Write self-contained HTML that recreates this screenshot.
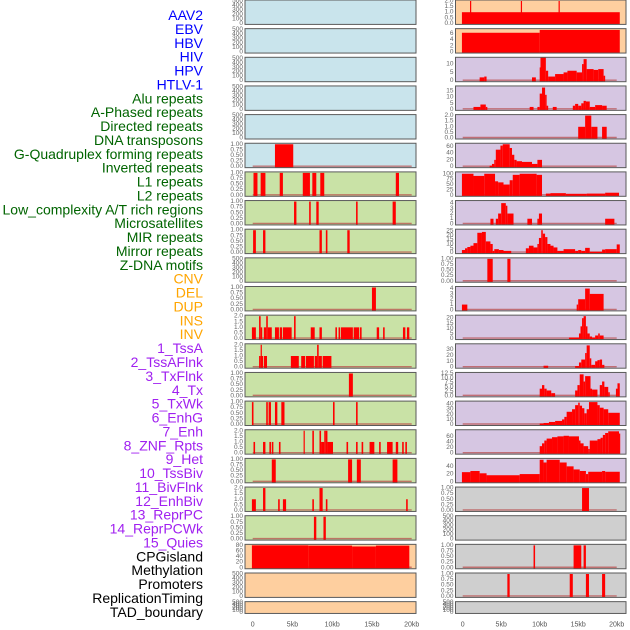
<!DOCTYPE html>
<html><head><meta charset="utf-8">
<style>
html,body{margin:0;padding:0;background:#fff;}
svg{display:block;font-family:"Liberation Sans",sans-serif;}
</style></head>
<body>
<svg id="chart" width="630" height="630" viewBox="0 0 630 630" xmlns="http://www.w3.org/2000/svg">
<g id="labels"></g>
<g id="panels"></g>
<g id="xaxes"></g>
</svg>
<script>
// ---------- DATA ----------
const categories = ["AAV2","EBV","HBV","HIV","HPV","HTLV-1","Alu repeats","A-Phased repeats","Directed repeats","DNA transposons","G-Quadruplex forming repeats","Inverted repeats","L1 repeats","L2 repeats","Low_complexity A/T rich regions","Microsatellites","MIR repeats","Mirror repeats","Z-DNA motifs","CNV","DEL","DUP","INS","INV","1_TssA","2_TssAFlnk","3_TxFlnk","4_Tx","5_TxWk","6_EnhG","7_Enh","8_ZNF_Rpts","9_Het","10_TssBiv","11_BivFlnk","12_EnhBiv","13_ReprPC","14_ReprPCWk","15_Quies","CPGisland","Methylation","Promoters","ReplicationTiming","TAD_boundary"];
const categoryColors = ["#0000ff","#0000ff","#0000ff","#0000ff","#0000ff","#0000ff","#006400","#006400","#006400","#006400","#006400","#006400","#006400","#006400","#006400","#006400","#006400","#006400","#006400","#ffa500","#ffa500","#ffa500","#ffa500","#ffa500","#a020f0","#a020f0","#a020f0","#a020f0","#a020f0","#a020f0","#a020f0","#a020f0","#a020f0","#a020f0","#a020f0","#a020f0","#a020f0","#a020f0","#a020f0","#000000","#000000","#000000","#000000","#000000"];
const xTickValues = [0,5,10,15,20];
const xTickLabels = ["0","5kb","10kb","15kb","20kb"];

const T_EMPTY = ["0","100","200","300","400","500"];
const T_BIN = ["0.00","0.25","0.50","0.75","1.00"];
const T_TWO = ["0.0","0.5","1.0","1.5","2.0"];

// middle column panels: segments [startKb, endKb, value]
const midTicks = [T_EMPTY,T_EMPTY,T_EMPTY,T_EMPTY,T_EMPTY,T_BIN,T_BIN,T_BIN,T_BIN,T_EMPTY,T_BIN,T_TWO,T_TWO,T_BIN,T_BIN,T_TWO,T_BIN,T_TWO,T_BIN,["0","20","40","60","80"],T_EMPTY,T_EMPTY];
const midMax = [500,500,500,500,500,1,1,1,1,500,1,2,2,1,1,2,1,2,1,80,500,500];
const midSegs = [
 [],[],[],[],[],
 [[2.8,5.1,1]],
 [[0.1,0.6,1],[1.0,1.6,1],[3.4,3.8,1],[6.3,7.2,1],[7.5,8.0,1],[8.5,9.0,1],[18.0,18.4,1]],
 [[5.2,5.5,1],[7.1,7.3,1],[8.0,8.3,1],[13.0,13.2,1],[17.6,18.0,1]],
 [[0.05,0.4,1],[1.3,1.6,1],[8.4,8.7,1],[9.2,9.4,1],[11.9,12.2,1]],
 [],
 [[15.0,15.5,1]],
 [[-0.1,0.4,1],[0.8,1.0,2],[1.0,1.2,1],[1.4,1.7,1],[1.7,1.9,2],[1.9,2.4,1],[2.8,3.3,1],[3.4,3.7,1],[3.8,4.9,1],[5.2,5.4,2],[7.3,7.8,1],[8.4,8.7,1],[10.4,10.6,1],[10.8,11.0,1],[11.1,12.6,1],[12.7,13.4,1],[13.5,13.7,1],[15.6,15.9,1],[16.4,16.6,1],[18.9,19.2,1],[19.4,19.7,1]],
 [[0.8,1.0,1],[1.0,1.1,2],[1.1,1.3,1],[1.4,1.8,1],[4.8,5.8,1],[6.1,6.6,1],[6.7,7.7,1],[7.8,8.1,1],[8.1,8.3,2],[8.3,8.7,1],[8.8,9.9,1]],
 [[12.1,12.6,1]],
 [[-0.1,0.1,1],[1.7,1.9,1],[2.0,2.3,1],[2.8,3.1,1],[3.6,4.0,1],[10.1,10.3,1],[13.0,13.2,1]],
 [[0.1,0.3,1],[1.3,1.6,1],[2.1,2.3,1],[2.4,2.6,1],[3.3,3.5,1],[6.4,6.5,2],[7.5,7.7,2],[8.4,8.6,2],[8.6,9.0,1],[9.0,9.2,2],[9.2,9.4,2],[9.4,10.1,1],[11.8,12.0,1],[13.0,13.2,1],[13.7,13.9,1],[14.7,15.3,1],[15.9,16.1,1],[16.9,17.6,1],[18.0,18.3,1],[18.8,19.0,1],[19.2,19.4,1]],
 [[2.4,2.9,1],[12.0,12.5,1],[13.1,13.6,1],[17.6,18.2,1]],
 [[-0.1,0.4,1],[1.3,1.6,2],[3.2,3.4,1],[3.8,4.2,1],[7.5,7.7,1],[8.4,8.8,2],[9.2,9.4,1],[19.3,19.5,1]],
 [[7.7,8.0,1],[8.9,9.2,1]],
 [[-0.1,7.0,80],[7.0,12.5,79],[12.5,15.5,76],[15.5,19.7,79]],
 [],[]
];

// right column panels
const rightTicks = [T_TWO,["0","2","4","6"],["0","5","10"],["0","5","10","15"],T_TWO,["0","20","40","60"],["0","25","50","75","100"],["0","1","2","3","4"],["0","5","10","15","20","25"],T_BIN,["0","1","2","3","4"],["0","5","10","15","20"],["0","10","20","30"],["0.0","2.5","5.0","7.5","10.0","12.5"],["0","10","20","30","40"],["0","20","40","60"],["0","20","40"],T_BIN,T_EMPTY,T_BIN,T_BIN,T_EMPTY];
const rightMax = [2,7.2,13.5,18.5,2,66,104,4.3,26,1,4.2,22,38,12.5,44,80,58,1,500,1,1,500];
const rightSegs = [
 [[-0.1,20.4,1],[0.95,1.05,2],[7.55,7.65,2],[12.45,12.55,2]],
 [[-0.1,10.0,6.2],[10.0,20.4,7.1]],
 [[2.2,2.8,2],[2.8,3.1,2.5],[9.0,9.5,2],[10.0,10.1,8],[10.1,10.8,14],[10.8,11.1,6],[11.1,12.0,2.5],[12.0,13.1,4],[13.1,13.6,5],[13.6,14.8,6],[14.8,15.5,5],[15.5,15.7,10],[15.7,16.1,13],[16.1,17.0,7],[17.0,17.6,6.5],[17.6,18.3,7],[18.3,18.5,3]],
 [[1.4,2.3,2],[2.3,3.0,4],[3.0,3.2,2],[8.7,9.2,2],[9.7,10.0,2],[10.0,10.3,13],[10.3,10.7,18],[10.7,10.9,12],[10.9,11.1,3],[11.7,12.2,2],[14.3,14.6,3],[14.6,15.0,4.5],[15.0,15.4,3],[15.4,15.7,5],[15.7,16.0,7],[16.0,16.5,6.5],[16.5,17.2,2],[17.2,18.1,3.5],[18.1,18.7,3]],
 [[15.0,15.9,1],[15.9,16.7,2],[16.7,17.5,1],[18.1,18.7,1]],
 [[3.5,3.8,3],[3.8,4.1,8],[4.1,4.3,20],[4.3,4.9,50],[4.9,5.2,62],[5.2,6.1,66],[6.1,6.4,55],[6.4,6.7,35],[6.7,7.0,20],[7.0,7.7,16],[7.7,9.0,14],[9.0,9.7,8],[9.7,10.3,20]],
 [[-0.1,1.4,100],[1.4,2.8,90],[2.8,4.2,100],[4.2,4.6,65],[4.6,5.3,60],[5.3,6.1,50],[6.1,6.5,70],[6.5,7.4,95],[7.4,9.6,100],[9.6,10.3,95],[10.8,11.4,8],[11.4,13.4,10],[13.4,16.1,7],[16.1,18.5,8],[18.5,20.3,12]],
 [[3.6,4.0,1],[4.3,4.6,1],[4.6,5.0,2],[5.0,5.6,4],[5.6,5.8,3.5],[5.8,6.6,2],[8.4,9.0,1],[9.7,9.9,1],[9.9,10.3,2],[18.5,19.7,1]],
 [[-0.1,0.3,3],[0.3,0.6,5],[0.6,1.0,6.5],[1.0,1.4,8],[1.4,1.9,11],[1.9,2.5,23],[2.5,3.0,24],[3.0,3.6,13],[3.6,3.9,10],[3.9,4.1,2],[4.1,4.7,4],[4.7,5.3,3],[5.3,6.3,2],[8.2,8.6,5],[8.6,9.2,8],[9.2,9.7,6],[9.7,9.9,10],[9.9,10.2,17],[10.2,10.4,26],[10.4,10.7,22],[10.7,11.0,18],[11.0,11.4,10],[11.4,11.8,8],[11.8,12.3,6],[12.3,13.1,2],[13.1,14.6,4],[14.6,15.0,2],[15.0,15.4,3],[15.4,15.9,2],[15.9,16.5,5.5],[16.5,18.1,1],[18.1,18.5,3.5],[18.5,20.0,4],[20.0,20.4,9.5]],
 [[3.2,3.9,1],[5.8,6.2,1]],
 [[-0.1,0.6,1],[14.8,15.0,1],[15.0,15.9,2],[15.9,16.5,4],[16.5,18.3,3]],
 [[13.8,15.1,1],[15.1,15.3,5],[15.3,15.5,12],[15.5,15.7,20],[15.7,16.0,22],[16.0,16.2,12],[16.2,16.5,5],[16.5,16.8,2],[16.8,17.2,1],[17.2,17.6,3],[17.6,17.8,5],[17.8,18.3,3]],
 [[10.5,11.1,2.5],[14.6,15.1,2],[15.1,15.4,8],[15.4,15.9,13],[15.9,16.1,24],[16.1,16.5,37],[16.5,16.7,15],[16.7,17.2,4],[17.2,17.5,10],[17.5,17.8,12],[17.8,18.1,13],[18.1,18.4,4]],
 [[10.0,10.3,4],[10.3,10.6,6],[10.6,10.9,4],[10.9,11.5,3],[11.5,12.0,1.5],[14.6,14.9,3],[14.9,15.2,6],[15.2,15.7,12],[15.7,15.9,8],[15.9,16.6,11],[16.6,16.8,4],[16.8,17.5,3.5],[17.8,18.1,6],[18.1,18.4,8],[18.4,18.9,5],[18.9,19.1,2],[19.9,20.1,4],[20.1,20.4,7]],
 [[10.0,10.5,2],[10.5,11.2,3],[11.2,12.0,5],[12.0,12.9,7],[12.9,13.2,10],[13.2,13.5,15],[13.5,14.2,25],[14.2,14.6,30],[14.6,15.0,38],[15.0,15.2,43],[15.2,15.5,37],[15.5,15.8,32],[15.8,16.1,22],[16.1,16.4,30],[16.4,17.5,44],[17.5,17.8,38],[17.8,18.3,33],[18.3,18.9,30],[18.9,20.4,23]],
 [[10.0,10.3,25],[10.3,10.6,35],[10.6,10.9,45],[10.9,11.6,52],[11.6,12.3,57],[12.3,13.1,60],[13.1,13.8,62],[13.8,15.1,60],[15.1,15.3,45],[15.3,15.7,35],[15.7,16.3,25],[16.3,16.5,15],[16.5,17.5,45],[17.5,17.9,50],[17.9,18.2,55],[18.2,18.5,65],[18.5,18.9,72],[18.9,20.3,78],[20.3,20.4,70]],
 [[-0.1,1.0,25],[1.0,2.2,28],[2.2,3.1,22],[3.1,7.4,17],[7.4,10.0,20],[10.0,10.5,57],[10.5,10.9,50],[10.9,12.6,57],[12.6,13.5,50],[13.5,14.4,40],[14.4,15.2,32],[15.2,16.0,28],[16.0,16.3,20],[16.3,18.1,26],[18.1,18.5,28],[18.5,20.4,26]],
 [[15.5,16.4,1]],
 [],
 [[9.2,9.4,1],[14.4,15.4,1],[15.7,16.0,1]],
 [[5.8,6.1,1],[13.9,14.3,1],[16.0,16.4,1],[18.1,18.5,1]],
 []
];

const panelFillMid = ["#c9e4ec","#c9e4ec","#c9e4ec","#c9e4ec","#c9e4ec","#c9e4ec","#c9e2a6","#c9e2a6","#c9e2a6","#c9e2a6","#c9e2a6","#c9e2a6","#c9e2a6","#c9e2a6","#c9e2a6","#c9e2a6","#c9e2a6","#c9e2a6","#c9e2a6","#fecf9f","#fecf9f","#fecf9f"];
const panelFillRight = ["#fecf9f","#fecf9f","#d6c6e2","#d6c6e2","#d6c6e2","#d6c6e2","#d6c6e2","#d6c6e2","#d6c6e2","#d6c6e2","#d6c6e2","#d6c6e2","#d6c6e2","#d6c6e2","#d6c6e2","#d6c6e2","#d6c6e2","#cfcfcf","#cfcfcf","#cfcfcf","#cfcfcf","#cfcfcf"];

// ---------- RENDER ----------
const NS = "http://www.w3.org/2000/svg";
function mk(tag, attrs, parent){ const e=document.createElementNS(NS,tag); for(const k in attrs) e.setAttribute(k,attrs[k]); parent.appendChild(e); return e; }
const cols = [
  {left:245, width:171, x0:252.7, ppk:7.95, segs:midSegs, ticks:midTicks, max:midMax, fills:panelFillMid, cat0:0, key:"mid"},
  {left:455.5, width:170.5, x0:462.7, ppk:7.7, segs:rightSegs, ticks:rightTicks, max:rightMax, fills:panelFillRight, cat0:22, key:"right"}
];
const ROW = 28.65;
function panelTop(i){ return i*ROW; }
function panelH(i){ return i===21 ? 11.8 : 24.4; }

const labelsG = document.getElementById('labels');
categories.forEach((c,i)=>{
  const t = mk('text',{x:203,y:15+i*13.88,'text-anchor':'end','dominant-baseline':'central','font-size':'14',fill:categoryColors[i]},labelsG);
  t.textContent = c;
  
  
});

const panelsG = document.getElementById('panels');
const xaxesG = document.getElementById('xaxes');
cols.forEach(col=>{
  const xs = kb => col.x0 + kb*col.ppk;
  for(let i=0;i<22;i++){
    const T = panelTop(i), H = panelH(i), L = col.left, W = col.width;
    const ymax = col.max[i];
    const ys = v => T + H - 1 - (v/ymax)*(H-2);
    const g = mk('g',{},panelsG);
    
    
    const bg = mk('rect',{x:L,y:T,width:W,height:H,fill:col.fills[i]},g);
    
    
    const segs = col.segs[i];
    if(segs.length){
      const bl = mk('line',{x1:xs(0),x2:xs(20),y1:T+H-1.5,y2:T+H-1.5,stroke:'#b84848','stroke-width':1.4,'stroke-opacity':0.7},g);
      
      
    }
    segs.forEach(s=>{
      const x1 = xs(s[0]), x2 = xs(s[1]);
      const yTop = Math.max(T, ys(s[2]));
      const r = mk('rect',{x:x1,y:yTop,width:Math.max(1.2,x2-x1),height:(T+H)-yTop,fill:'#ff0000'},g);
      
      
    });
    const border = mk('rect',{x:L,y:T,width:W,height:H,fill:'none',stroke:'#5a5a5a','stroke-width':1},g);
    
    
    col.ticks[i].forEach(lbl=>{
      const v = parseFloat(lbl);
      const t = mk('text',{x:L-2,y:ys(v),'text-anchor':'end','dominant-baseline':'central','font-size':'6.5',fill:'#666'},g);
      t.textContent = lbl;
      
      
    });
  }
  xTickValues.forEach((v,k)=>{
    const t = mk('text',{x:xs(v),y:625,'text-anchor':'middle','dominant-baseline':'central','font-size':'7',fill:'#555'},xaxesG);
    t.textContent = xTickLabels[k];
    
    
  });
});
</script>
</body></html>
